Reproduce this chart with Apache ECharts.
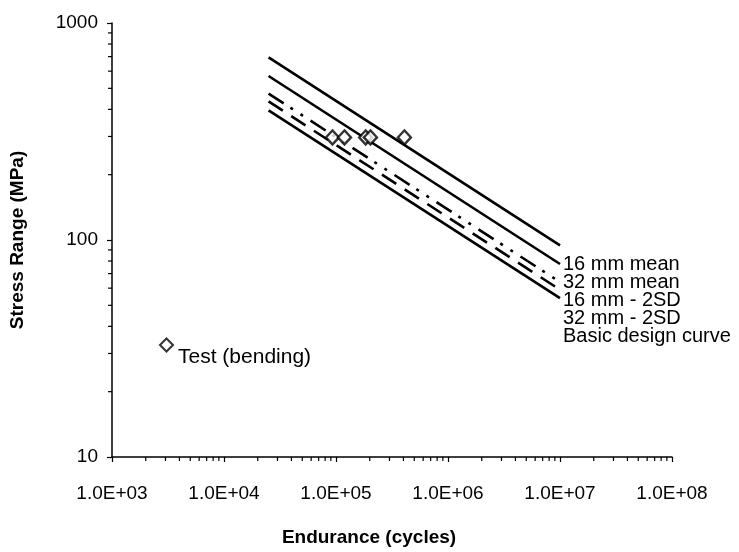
<!DOCTYPE html>
<html>
<head>
<meta charset="utf-8">
<script src="https://cdn.jsdelivr.net/npm/echarts@6/dist/echarts.min.js"></script>
<style>
html,body{margin:0;padding:0;background:#fff;}
#chart{width:739px;height:552px;}
</style>
</head>
<body>
<div id="chart"></div>
<script>
// ---- data ----
var seriesNames = ['16 mm mean', '32 mm mean', '16 mm - 2SD', '32 mm - 2SD', 'Basic design curve'];
var curveStartN = 25000;
var curveEndN = 1e7;
var mean16 = [[curveStartN, 695], [curveEndN, 94.5]];
var mean32 = [[curveStartN, 570], [curveEndN, 77.5]];
var sd16 = [[curveStartN, 473], [curveEndN, 64]];
var sd32 = [[curveStartN, 435], [curveEndN, 59]];
var basicDesign = [[curveStartN, 396], [curveEndN, 54]];
var testName = 'Test (bending)';
var testBending = [[93000, 297], [119000, 297], [184000, 297], [203000, 297], [408000, 297]];

// tick labels
var xTickLabels = ['1.0E+03', '1.0E+04', '1.0E+05', '1.0E+06', '1.0E+07', '1.0E+08'];
var yTickLabels = ['10', '100', '1000'];
var xDecades = [1e3, 1e4, 1e5, 1e6, 1e7];
var yDecades = [10, 100];
var minorMultipliers = [2, 3, 4, 5, 6, 7, 8, 9];

var minorX = [];
xDecades.forEach(function (d) { minorMultipliers.forEach(function (m) { minorX.push([d * m, 10]); }); });
var minorY = [];
yDecades.forEach(function (d) { minorMultipliers.forEach(function (m) { minorY.push([1000, d * m]); }); });

var FONT = 'Liberation Sans, Arial, Helvetica, sans-serif';
var chart = echarts.init(document.getElementById('chart'), null, {renderer: 'canvas'});

function lineSeries(name, data, type) {
  return {
    name: name, type: 'line', data: data, symbol: 'none', silent: true,
    lineStyle: {color: '#000', width: 2.6, type: type, cap: 'butt'},
    itemStyle: {color: '#000'}, z: 3
  };
}

var option = {
  backgroundColor: '#fff',
  animation: false,
  grid: {left: 111, right: 67, top: 23, bottom: 86, containLabel: false},
  legend: [
    {
      data: seriesNames,
      orient: 'vertical', left: 553, top: 249,
      icon: 'none', itemWidth: 0, itemHeight: 14, itemGap: -2,
      selectedMode: false,
      textStyle: {fontFamily: FONT, fontSize: 20, color: '#000'}
    },
    {
      data: [testName],
      orient: 'vertical', left: 154, top: 316,
      itemWidth: 13, itemHeight: 13, itemGap: 0,
      selectedMode: false,
      formatter: function (n) { return '\n' + n; },
      textStyle: {fontFamily: FONT, fontSize: 21, color: '#000', lineHeight: 24}
    }
  ],
  xAxis: {
    type: 'log', logBase: 10, min: 1e3, max: 1e8,
    name: 'Endurance (cycles)', nameLocation: 'middle', nameGap: 71,
    nameTextStyle: {fontFamily: FONT, fontSize: 19, fontWeight: 'bold', color: '#000', padding: [0, 46, 0, 0]},
    axisLine: {show: true, lineStyle: {color: '#000', width: 1.5}},
    axisTick: {show: true, inside: false, length: 5, lineStyle: {color: '#000', width: 1.2}},
    axisLabel: {
      fontFamily: FONT, fontSize: 19, color: '#000', margin: 27,
      formatter: function (v) { return xTickLabels[Math.round(Math.log10(v)) - 3]; }
    },
    splitLine: {show: false}
  },
  yAxis: {
    type: 'log', logBase: 10, min: 10, max: 1000,
    name: 'Stress Range (MPa)', nameLocation: 'middle', nameGap: 85,
    nameTextStyle: {fontFamily: FONT, fontSize: 19, fontWeight: 'bold', color: '#000'},
    axisLine: {show: true, lineStyle: {color: '#000', width: 1.5}},
    axisTick: {show: true, inside: false, length: 5, lineStyle: {color: '#000', width: 1.2}},
    axisLabel: {
      fontFamily: FONT, fontSize: 19, color: '#000', margin: 14,
      formatter: function (v) { return yTickLabels[Math.round(Math.log10(v)) - 1]; }
    },
    splitLine: {show: false}
  },
  series: [
    lineSeries(seriesNames[0], mean16, 'solid'),
    lineSeries(seriesNames[1], mean32, 'solid'),
    lineSeries(seriesNames[2], sd16, [18, 8, 3, 9, 3, 9]),
    lineSeries(seriesNames[3], sd32, [17, 10]),
    lineSeries(seriesNames[4], basicDesign, 'solid'),
    {
      name: testName, type: 'scatter', data: testBending,
      symbol: 'diamond', symbolSize: [13, 14],
      itemStyle: {color: '#fff', borderColor: '#000', borderWidth: 2.4},
      z: 5, silent: true
    },
    {
      name: 'minorX', type: 'custom', data: minorX, silent: true, clip: false, z: 6,
      encode: {x: 0, y: 1},
      renderItem: function (params, api) {
        var p = api.coord([api.value(0), api.value(1)]);
        return {type: 'line', shape: {x1: p[0], y1: p[1], x2: p[0], y2: p[1] + 4},
          style: {stroke: '#000', lineWidth: 1.2}};
      }
    },
    {
      name: 'minorY', type: 'custom', data: minorY, silent: true, clip: false, z: 6,
      encode: {x: 0, y: 1},
      renderItem: function (params, api) {
        var p = api.coord([api.value(0), api.value(1)]);
        return {type: 'line', shape: {x1: p[0] - 4, y1: p[1], x2: p[0], y2: p[1]},
          style: {stroke: '#000', lineWidth: 1.2}};
      }
    }
  ]
};
chart.setOption(option);
</script>
</body>
</html>
